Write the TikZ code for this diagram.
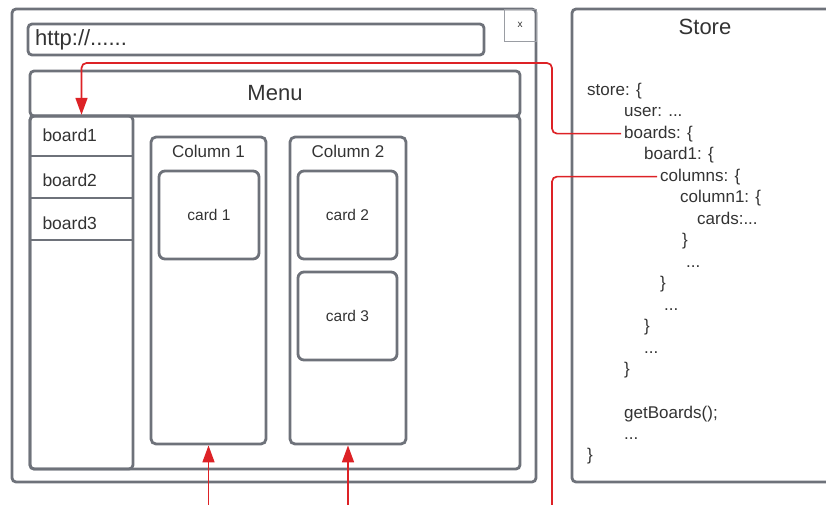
\documentclass[tikz,border=0pt]{standalone}
\usepackage{fontspec}
\setmainfont{Liberation Sans}
\usetikzlibrary{arrows.meta}
\definecolor{frame}{HTML}{6E727A}
\definecolor{ink}{HTML}{333333}
\definecolor{linkred}{HTML}{DD2226}
\definecolor{thin}{HTML}{9A9DA3}

\begin{document}
\begin{tikzpicture}[x=1pt,y=-1pt,
  box/.style={draw=frame, line width=2.8pt, rounded corners=4pt, inner sep=0pt},
  label/.style={text=ink, inner sep=0pt},
  code/.style={anchor=base west, inner xsep=3pt, inner ysep=0pt, text=ink,
               font=\fontsize{17}{20}\selectfont},
  wire/.style={draw=linkred, line width=1.7pt, rounded corners=5pt},
  tip/.style={-{Triangle[length=17pt,width=12pt]}}
]
\useasboundingbox (0,0) rectangle (826,504);
\clip (0,0) rectangle (826,504);

% browser window
\node[box, minimum width=524pt, minimum height=473pt] (window) at (274,245.5) {};
\node[draw=thin, line width=0.8pt, minimum size=32pt, inner sep=0pt,
      text=ink, font=\fontsize{10}{12}\selectfont] (close) at (520,25) {x};
\node[box, minimum width=456pt, minimum height=31pt] (url) at (256,39.5) {};
\node[label, anchor=west, font=\fontsize{22}{26}\selectfont] (urltext) at (35,40) {http://......};

% menu bar and content area
\node[box, minimum width=490pt, minimum height=45pt, font=\fontsize{22}{26}\selectfont, text=ink]
  (menu) at (275,93.5) {Menu};
\node[box, minimum width=490pt, minimum height=353pt] (content) at (275,292.5) {};

% board list
\node[box, minimum width=103pt, minimum height=353pt] (sidebar) at (81.5,292.5) {};
\draw[draw=frame, line width=2.8pt] (30,156) -- (133,156)
  (30,198) -- (133,198) (30,240) -- (133,240);
\foreach \n/\y in {1/135,2/180,3/223}
  \node[label, minimum width=103pt, minimum height=40pt, text width=78pt, align=left,
        font=\fontsize{17.5}{20}\selectfont] (board\n) at (81.5,\y) {board\n};

% columns and cards
\node[box, rounded corners=5pt, minimum width=115pt, minimum height=307pt] (col1) at (208.5,290.5) {};
\node[box, rounded corners=5pt, minimum width=116pt, minimum height=307pt] (col2) at (348,290.5) {};
\node[label, font=\fontsize{17}{20}\selectfont] (col1title) at (208.5,151) {Column 1};
\node[label, font=\fontsize{17}{20}\selectfont] (col2title) at (348,151) {Column 2};
\node[box, rounded corners=6pt, minimum width=100pt, minimum height=88pt, text=ink,
      font=\fontsize{15.5}{18}\selectfont] (card1) at (209,215) {card 1};
\node[box, rounded corners=6pt, minimum width=99pt, minimum height=88pt, text=ink,
      font=\fontsize{15.5}{18}\selectfont] (card2) at (347.5,215) {card 2};
\node[box, rounded corners=6pt, minimum width=99pt, minimum height=88pt, text=ink,
      font=\fontsize{15.5}{18}\selectfont] (card3) at (347.5,316) {card 3};

% store panel
\draw[draw=frame, line width=2.8pt, rounded corners=4pt] (572,9) rectangle (860,482);
\node[label, font=\fontsize{22}{26}\selectfont] (storetitle) at (705,27) {Store};

\node[code] (l1)  at (584,95)    {store: \{};
\node[code] (l2)  at (621,116.5) {user: ...};
\node[code] (boards)  at (621,138)   {boards: \{};
\node[code] (l4)  at (641,159.5) {board1: \{};
\node[code] (columns) at (657,181)   {columns: \{};
\node[code] (l6)  at (677,202.5) {column1: \{};
\node[code] (l7)  at (694,224)   {cards:...};
\node[code] (l8)  at (679,245.5) {\}};
\node[code] (l9)  at (683,267)   {...};
\node[code] (l10) at (657,288.5) {\}};
\node[code] (l11) at (661,310)   {...};
\node[code] (l12) at (641,331.5) {\}};
\node[code] (l13) at (641,353)   {...};
\node[code] (l14) at (621,374.5) {\}};
\node[code] (l15) at (621,418)   {getBoards();};
\node[code] (l16) at (621,439)   {...};
\node[code] (l17) at (584,460.5) {\}};

% connectors
\coordinate (upper) at (552,63);
\coordinate (lower) at (552,515);
\coordinate (in1) at (208.5,515);
\coordinate (in2) at (348,515);
\draw[wire, tip] (boards.west) -| (upper) -| (board1.north);
\draw[wire] (columns.west) -| (lower);
\draw[wire, tip] (in1) -- (col1.south);
\draw[wire, tip] (in2) -- (col2.south);
\end{tikzpicture}
\end{document}
